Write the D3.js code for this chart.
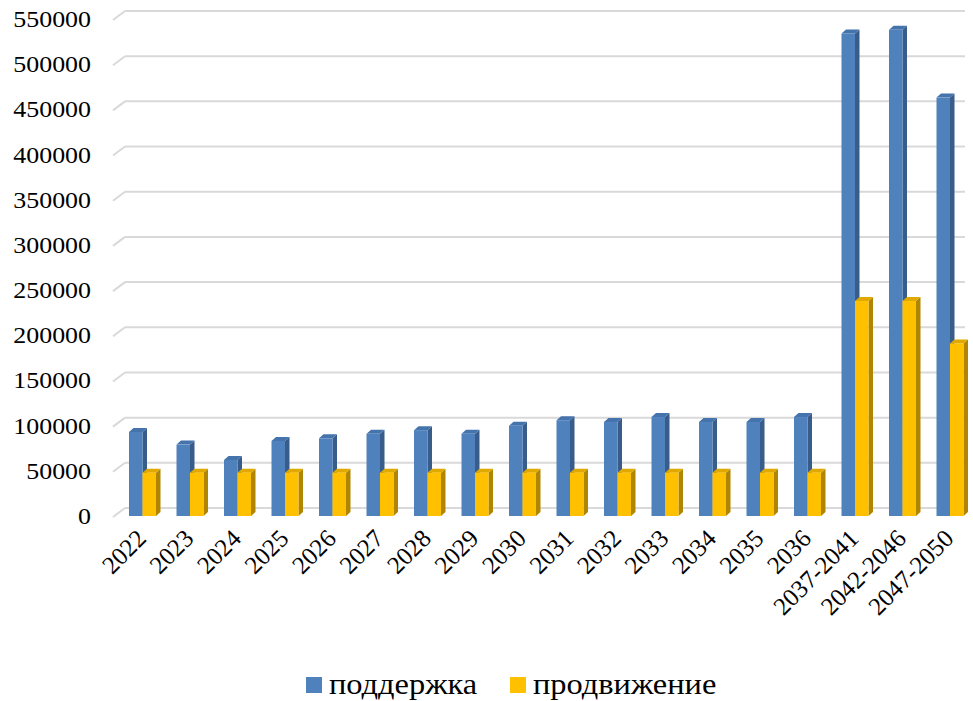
<!DOCTYPE html>
<html><head><meta charset="utf-8">
<script src="https://cdn.jsdelivr.net/npm/d3@7/dist/d3.min.js"></script>
<style>body{margin:0;background:#fff}svg{display:block}</style>
</head><body>
<svg id="c" width="973" height="701"></svg>
<script>
const categories = ["2022","2023","2024","2025","2026","2027","2028","2029","2030","2031","2032","2033","2034","2035","2036","2037-2041","2042-2046","2047-2050"];
const support = [93000,79000,62000,83000,86000,91000,95000,91000,100000,106000,104000,109500,104000,104000,109500,534000,538000,463000];
const promotion = [48000,48000,48000,48000,48000,48000,48000,48000,48000,48000,48000,48000,48000,48000,48000,238000,238000,191000];
const yTicks = [0,50000,100000,150000,200000,250000,300000,350000,400000,450000,500000,550000];
const seriesNames = ["поддержка","продвижение"];

const svg = d3.select("#c");
const FONT = '"Liberation Serif"';
const y = d3.scaleLinear().domain([0,550000]).range([516,19]);
const x = d3.scaleBand().domain(categories).range([118.75,973.75]);
const depthX = 4.5, depthY = -4, wallShift = 8;
const barW = 13.5;

// gridlines (back wall + side wall diagonal)
const grid = svg.append("g");
yTicks.forEach(t => {
  const yf = y(t), yb = yf - wallShift;
  grid.append("line").attr("x1",125).attr("x2",965).attr("y1",yb).attr("y2",yb)
    .attr("stroke","#d9d9d9").attr("stroke-width",2);
  grid.append("line").attr("x1",113).attr("y1",yf+1).attr("x2",125).attr("y2",yb)
    .attr("stroke","#d9d9d9").attr("stroke-width",2);
});

// y axis labels
const fmt = d3.format("d");
const ya = svg.append("g");
yTicks.forEach(t => {
  ya.append("g").attr("transform",`translate(91,${y(t)+8}) scale(1.08,1)`)
    .append("text").attr("text-anchor","end")
    .style("font-family",FONT).style("font-size","24px").attr("fill","#000").text(fmt(t));
});

// bars
const series = [
  {vals: support, front:"#4f81bd", side:"#385d8a", top:"#4573ab", off:0},
  {vals: promotion, front:"#ffc000", side:"#b08600", top:"#e0a900", off:barW}
];
const bars = svg.append("g");
categories.forEach((c,i) => {
  series.forEach(s => {
    const x0 = x(c) + (x.bandwidth()-2*barW)/2 + s.off;
    const x1 = x0 + barW;
    const yt = y(s.vals[i]), yb = y(0);
    const g = bars.append("g");
    g.append("path").attr("d",`M${x1},${yb}L${x1+depthX},${yb+depthY}L${x1+depthX},${yt+depthY}L${x1},${yt}Z`).attr("fill",s.side);
    g.append("path").attr("d",`M${x0},${yt}L${x0+depthX},${yt+depthY}L${x1+depthX},${yt+depthY}L${x1},${yt}Z`).attr("fill",s.top);
    g.append("rect").attr("x",x0).attr("y",yt).attr("width",barW).attr("height",yb-yt).attr("fill",s.front);
  });
});

// x axis labels
const xa = svg.append("g");
categories.forEach(c => {
  const cx = x(c) + x.bandwidth()/2 + 5;
  xa.append("g").attr("transform",`translate(${cx},${526+14}) rotate(-45)`)
    .append("text").attr("text-anchor","end")
    .style("font-family",FONT).style("font-size","25px").attr("fill","#000").text(c);
});

// legend
const lg = svg.append("g");
const lx = [306,510];
seriesNames.forEach((n,i) => {
  lg.append("rect").attr("x",lx[i]).attr("y",677).attr("width",16).attr("height",16).attr("fill",series[i].front);
  lg.append("g").attr("transform",`translate(${lx[i]+23},694) scale(1.08,1)`)
    .append("text").style("font-family",FONT).style("font-size","30px").attr("fill","#000").text(n);
});
</script>
</body></html>
